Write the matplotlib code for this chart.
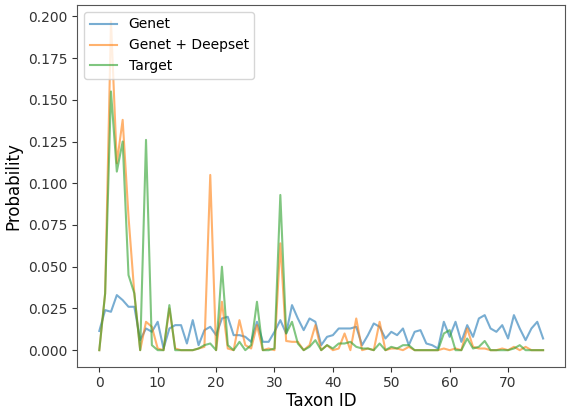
import numpy as np
import matplotlib
matplotlib.use('Agg')
import matplotlib.pyplot as plt

# probability per taxon
genet = [0.0115, 0.024, 0.023, 0.033, 0.030, 0.026, 0.026, 0.006, 0.013, 0.011,
         0.017, 0.001, 0.013, 0.015, 0.015, 0.004, 0.018, 0.003, 0.012, 0.014,
         0.009, 0.019, 0.020, 0.009, 0.009, 0.008, 0.005, 0.017, 0.005, 0.005,
         0.011, 0.018, 0.010, 0.027, 0.019, 0.012, 0.019, 0.017, 0.003, 0.008,
         0.009, 0.013, 0.013, 0.013, 0.014, 0.003, 0.009, 0.016, 0.014, 0.007,
         0.011, 0.009, 0.013, 0.003, 0.011, 0.012, 0.004, 0.003, 0.001, 0.017,
         0.008, 0.017, 0.005, 0.015, 0.008, 0.019, 0.021, 0.013, 0.011, 0.015,
         0.007, 0.021, 0.013, 0.006, 0.013, 0.017, 0.007]
deepset = [0.000, 0.034, 0.197, 0.112, 0.138, 0.080, 0.034, 0.000, 0.017, 0.014,
           0.001, 0.000, 0.025, 0.001, 0.000, 0.000, 0.000, 0.001, 0.002, 0.105,
           0.000, 0.029, 0.001, 0.000, 0.018, 0.003, 0.001, 0.015, 0.000, 0.001,
           0.000, 0.064, 0.0055, 0.005, 0.005, 0.000, 0.003, 0.015, 0.000, 0.003,
           0.000, 0.001, 0.010, 0.000, 0.019, 0.000, 0.001, 0.000, 0.017, 0.000,
           0.001, 0.001, 0.000, 0.002, 0.000, 0.000, 0.000, 0.000, 0.000, 0.001,
           0.000, 0.001, 0.000, 0.013, 0.002, 0.001, 0.001, 0.000, 0.000, 0.001,
           0.000, 0.002, 0.000, 0.002, 0.000, 0.000, 0.000]
target = [0.000, 0.034, 0.155, 0.107, 0.125, 0.045, 0.034, 0.000, 0.126, 0.003,
          0.000, 0.000, 0.027, 0.000, 0.000, 0.000, 0.000, 0.001, 0.003, 0.004,
          0.000, 0.050, 0.003, 0.000, 0.005, 0.000, 0.003, 0.029, 0.000, 0.000,
          0.001, 0.093, 0.010, 0.017, 0.004, 0.000, 0.002, 0.006, 0.000, 0.003,
          0.001, 0.004, 0.004, 0.005, 0.002, 0.001, 0.001, 0.000, 0.004, 0.000,
          0.002, 0.001, 0.003, 0.003, 0.000, 0.000, 0.000, 0.000, 0.000, 0.010,
          0.012, 0.000, 0.000, 0.007, 0.001, 0.002, 0.0055, 0.000, 0.000, 0.000,
          0.000, 0.001, 0.003, 0.000, 0.000, 0.000, 0.000]
taxa = np.arange(len(genet))

fig = plt.figure(figsize=(5.67, 4.11), dpi=100)
ax = fig.add_axes([0.136, 0.108, 0.861, 0.880])

ax.plot(taxa, genet, alpha=0.6, label='Genet')
ax.plot(taxa, deepset, alpha=0.6, label='Genet + Deepset')
ax.plot(taxa, target, alpha=0.6, label='Target')

ax.set_xlabel('Taxon ID', fontsize=12, labelpad=1)
ax.set_ylabel('Probability', fontsize=12)
ax.set_xticks(np.arange(0, 80, 10))
ax.tick_params(labelsize=10, colors='#333333')
for s in ax.spines.values():
    s.set_color('#555555')
ax.legend(loc='upper left', fontsize=10)

fig.savefig('out.png')
